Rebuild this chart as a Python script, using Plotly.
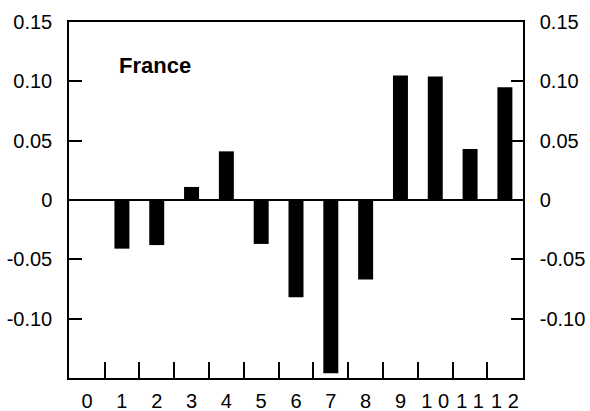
import plotly.graph_objects as go

periods = [1, 2, 3, 4, 5, 6, 7, 8, 9, 10, 11, 12]
values = [-0.041, -0.038, 0.011, 0.041, -0.037, -0.082, -0.146, -0.067, 0.105, 0.104, 0.043, 0.095]
x_tick_vals = list(range(0, 13))
x_tick_text = ["0", "1", "2", "3", "4", "5", "6", "7", "8", "9", "1 0", "1 1", "1 2"]
x_minor_ticks = [i + 0.5 for i in range(12)]
y_tick_vals = [-0.10, -0.05, 0, 0.05, 0.10, 0.15]
y_tick_text = ["-0.10", "-0.05", "0", "0.05", "0.10", "0.15"]
y_range = [-0.15, 0.15]
x_range = [-0.52, 12.52]

font = dict(family="Liberation Sans, Arial, sans-serif", size=20, color="black")

fig = go.Figure()
fig.add_trace(go.Bar(x=periods, y=values, width=0.43,
                     marker=dict(color="black", line=dict(width=0)),
                     showlegend=False))
fig.add_trace(go.Scatter(x=[periods[0]], y=[values[0]], yaxis="y2", mode="markers",
                         marker=dict(opacity=0), showlegend=False, hoverinfo="skip"))

fig.update_layout(
    width=590, height=411,
    margin=dict(l=69, r=67, t=22, b=33, autoexpand=False),
    plot_bgcolor="white", paper_bgcolor="white",
    font=font,
    xaxis=dict(range=x_range, tickvals=x_tick_vals, ticktext=x_tick_text,
               ticks="", showgrid=False, zeroline=False, automargin=False,
               showline=True, linecolor="black", linewidth=1.5, mirror=True,
               tickfont=font, ticklabelstandoff=4,
               minor=dict(tickvals=x_minor_ticks, ticks="inside", ticklen=16,
                          tickcolor="black", tickwidth=1.5, showgrid=False)),
    yaxis=dict(range=y_range, tickvals=y_tick_vals, ticktext=y_tick_text,
               ticks="inside", ticklen=13, tickwidth=1.5, tickcolor="black",
               showgrid=False, zeroline=True, zerolinecolor="black", zerolinewidth=1.5,
               showline=True, linecolor="black", linewidth=1.5, automargin=False,
               tickfont=font, ticklabelstandoff=11),
    yaxis2=dict(range=y_range, tickvals=y_tick_vals, ticktext=y_tick_text,
                overlaying="y", side="right", automargin=False,
                ticks="inside", ticklen=12, tickwidth=1.5, tickcolor="black",
                showgrid=False, zeroline=False,
                showline=True, linecolor="black", linewidth=1.5,
                tickfont=font, ticklabelstandoff=11),
    annotations=[dict(text="<b>France</b>", x=0.19, y=0.113, xref="paper", yref="y",
                      xanchor="center", yanchor="middle", showarrow=False,
                      font=dict(family="Liberation Sans, Arial, sans-serif", size=22, color="black"))],
)
fig.write_html("out.html", config={"displayModeBar": False},
               post_script="document.body.style.margin='0';document.body.style.overflow='hidden';")
